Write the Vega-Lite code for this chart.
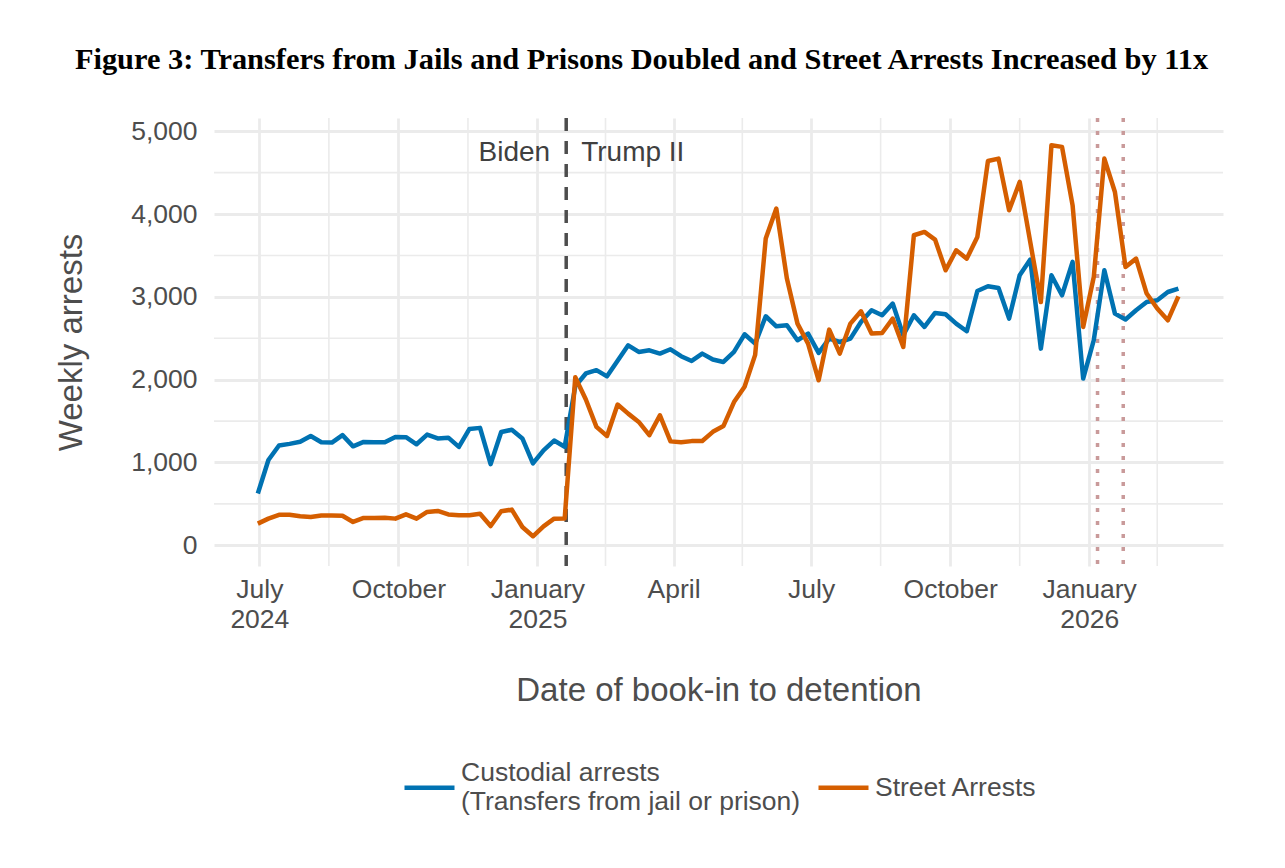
{
  "$schema": "https://vega.github.io/schema/vega-lite/v6.json",
  "width": 1009,
  "height": 448,
  "autosize": {"type": "none"},
  "padding": {"left": 214, "top": 118, "right": 62, "bottom": 302},
  "background": "white",
  "title": {
    "text": "Figure 3: Transfers from Jails and Prisons Doubled and Street Arrests Increased by 11x",
    "font": "Liberation Serif",
    "fontSize": 30.4,
    "fontWeight": "bold",
    "color": "#000000",
    "anchor": "middle",
    "frame": "group",
    "dx": -77,
    "offset": 41
  },
  "config": {
    "view": {"stroke": null},
    "font": "Liberation Sans",
    "axis": {
      "domain": false,
      "ticks": false,
      "tickSize": 0,
      "gridColor": "#ebebeb",
      "gridWidth": 2.8,
      "labelFont": "Liberation Sans",
      "labelFontSize": 26.5,
      "labelColor": "#4d4d4d",
      "titleFont": "Liberation Sans",
      "titleFontSize": 33,
      "titleFontWeight": "normal",
      "titleColor": "#4d4d4d"
    }
  },
  "datasets": {
    "weekly": [
      {"date": "2024-06-30", "custodial": 625, "street": 262},
      {"date": "2024-07-07", "custodial": 1030, "street": 322},
      {"date": "2024-07-14", "custodial": 1205, "street": 368},
      {"date": "2024-07-21", "custodial": 1225, "street": 370},
      {"date": "2024-07-28", "custodial": 1250, "street": 350},
      {"date": "2024-08-04", "custodial": 1320, "street": 342},
      {"date": "2024-08-11", "custodial": 1245, "street": 360},
      {"date": "2024-08-18", "custodial": 1240, "street": 360},
      {"date": "2024-08-25", "custodial": 1330, "street": 356},
      {"date": "2024-09-01", "custodial": 1195, "street": 282},
      {"date": "2024-09-08", "custodial": 1248, "street": 330},
      {"date": "2024-09-15", "custodial": 1244, "street": 330},
      {"date": "2024-09-22", "custodial": 1244, "street": 334},
      {"date": "2024-09-29", "custodial": 1308, "street": 322},
      {"date": "2024-10-06", "custodial": 1305, "street": 374},
      {"date": "2024-10-13", "custodial": 1220, "street": 322},
      {"date": "2024-10-20", "custodial": 1337, "street": 403},
      {"date": "2024-10-27", "custodial": 1290, "street": 415},
      {"date": "2024-11-03", "custodial": 1300, "street": 372},
      {"date": "2024-11-10", "custodial": 1188, "street": 362},
      {"date": "2024-11-17", "custodial": 1405, "street": 362},
      {"date": "2024-11-24", "custodial": 1418, "street": 382},
      {"date": "2024-12-01", "custodial": 980, "street": 233},
      {"date": "2024-12-08", "custodial": 1368, "street": 411},
      {"date": "2024-12-15", "custodial": 1395, "street": 431},
      {"date": "2024-12-22", "custodial": 1290, "street": 221},
      {"date": "2024-12-29", "custodial": 990, "street": 109},
      {"date": "2025-01-05", "custodial": 1147, "street": 229},
      {"date": "2025-01-12", "custodial": 1265, "street": 322},
      {"date": "2025-01-19", "custodial": 1190, "street": 325},
      {"date": "2025-01-26", "custodial": 1920, "street": 2030},
      {"date": "2025-02-02", "custodial": 2075, "street": 1760},
      {"date": "2025-02-09", "custodial": 2115, "street": 1430},
      {"date": "2025-02-16", "custodial": 2040, "street": 1320},
      {"date": "2025-02-23", "custodial": 2230, "street": 1700},
      {"date": "2025-03-02", "custodial": 2415, "street": 1590},
      {"date": "2025-03-09", "custodial": 2335, "street": 1490},
      {"date": "2025-03-16", "custodial": 2355, "street": 1330},
      {"date": "2025-03-23", "custodial": 2315, "street": 1570},
      {"date": "2025-03-30", "custodial": 2367, "street": 1255},
      {"date": "2025-04-06", "custodial": 2283, "street": 1245},
      {"date": "2025-04-13", "custodial": 2226, "street": 1258},
      {"date": "2025-04-20", "custodial": 2315, "street": 1260},
      {"date": "2025-04-27", "custodial": 2243, "street": 1370},
      {"date": "2025-05-04", "custodial": 2214, "street": 1440},
      {"date": "2025-05-11", "custodial": 2335, "street": 1730},
      {"date": "2025-05-18", "custodial": 2548, "street": 1915},
      {"date": "2025-05-25", "custodial": 2436, "street": 2300},
      {"date": "2025-06-01", "custodial": 2766, "street": 3704},
      {"date": "2025-06-08", "custodial": 2645, "street": 4066},
      {"date": "2025-06-15", "custodial": 2657, "street": 3221},
      {"date": "2025-06-22", "custodial": 2476, "street": 2677},
      {"date": "2025-06-29", "custodial": 2557, "street": 2436},
      {"date": "2025-07-06", "custodial": 2323, "street": 1993},
      {"date": "2025-07-13", "custodial": 2496, "street": 2605},
      {"date": "2025-07-20", "custodial": 2455, "street": 2315},
      {"date": "2025-07-27", "custodial": 2496, "street": 2677},
      {"date": "2025-08-03", "custodial": 2697, "street": 2826},
      {"date": "2025-08-10", "custodial": 2838, "street": 2557},
      {"date": "2025-08-17", "custodial": 2778, "street": 2564},
      {"date": "2025-08-24", "custodial": 2919, "street": 2738},
      {"date": "2025-08-31", "custodial": 2536, "street": 2395},
      {"date": "2025-09-07", "custodial": 2778, "street": 3744},
      {"date": "2025-09-14", "custodial": 2637, "street": 3784},
      {"date": "2025-09-21", "custodial": 2806, "street": 3692},
      {"date": "2025-09-28", "custodial": 2790, "street": 3321},
      {"date": "2025-10-05", "custodial": 2677, "street": 3563},
      {"date": "2025-10-12", "custodial": 2585, "street": 3462},
      {"date": "2025-10-19", "custodial": 3071, "street": 3724},
      {"date": "2025-10-26", "custodial": 3128, "street": 4641},
      {"date": "2025-11-02", "custodial": 3108, "street": 4670},
      {"date": "2025-11-09", "custodial": 2738, "street": 4046},
      {"date": "2025-11-16", "custodial": 3261, "street": 4388},
      {"date": "2025-11-23", "custodial": 3450, "street": 3660},
      {"date": "2025-11-30", "custodial": 2375, "street": 2938},
      {"date": "2025-12-07", "custodial": 3261, "street": 4831},
      {"date": "2025-12-14", "custodial": 3019, "street": 4811},
      {"date": "2025-12-21", "custodial": 3422, "street": 4106},
      {"date": "2025-12-28", "custodial": 2013, "street": 2637},
      {"date": "2026-01-04", "custodial": 2476, "street": 3240},
      {"date": "2026-01-11", "custodial": 3321, "street": 4670},
      {"date": "2026-01-18", "custodial": 2798, "street": 4267},
      {"date": "2026-01-25", "custodial": 2726, "street": 3361},
      {"date": "2026-02-01", "custodial": 2838, "street": 3462},
      {"date": "2026-02-08", "custodial": 2938, "street": 3040},
      {"date": "2026-02-15", "custodial": 2959, "street": 2859},
      {"date": "2026-02-22", "custodial": 3059, "street": 2717},
      {"date": "2026-03-01", "custodial": 3100, "street": 3007}
    ],
    "minorX": [
      {"date": "2024-08-16"},
      {"date": "2024-11-16"},
      {"date": "2025-02-15"},
      {"date": "2025-05-16T12:00:00Z"},
      {"date": "2025-08-16"},
      {"date": "2025-11-16"},
      {"date": "2026-02-15"}
    ],
    "minorY": [
      {"v": 500}, {"v": 1500}, {"v": 2500}, {"v": 3500}, {"v": 4500}
    ],
    "inauguration": [{"date": "2025-01-20"}],
    "events": [{"date": "2026-01-06T12:00:00Z"}, {"date": "2026-01-23T12:00:00Z"}],
    "labelLeft": [{"date": "2025-01-20", "y": 4740, "label": "Biden"}],
    "labelRight": [{"date": "2025-01-20", "y": 4740, "label": "Trump II"}]
  },
  "layer": [
    {
      "data": {"name": "minorX"},
      "mark": {"type": "rule", "color": "#ebebeb", "strokeWidth": 1.6},
      "encoding": {
        "x": {"field": "date", "type": "temporal", "title": "Date of book-in to detention"}
      }
    },
    {
      "data": {"name": "minorY"},
      "mark": {"type": "rule", "color": "#ebebeb", "strokeWidth": 1.6},
      "encoding": {
        "y": {"field": "v", "type": "quantitative", "title": "Weekly arrests"}
      }
    },
    {
      "data": {"name": "inauguration"},
      "mark": {"type": "rule", "color": "#4d4d4d", "strokeWidth": 3.5, "strokeDash": [13, 10]},
      "encoding": {
        "x": {"field": "date", "type": "temporal", "title": "Date of book-in to detention"}
      }
    },
    {
      "data": {"name": "events"},
      "mark": {"type": "rule", "color": "#c99a9a", "strokeWidth": 3.5, "strokeDash": [4, 9]},
      "encoding": {
        "x": {"field": "date", "type": "temporal", "title": "Date of book-in to detention"}
      }
    },
    {
      "data": {"name": "weekly"},
      "transform": [{"fold": ["custodial", "street"], "as": ["series", "arrests"]}],
      "mark": {"type": "line", "strokeWidth": 4.5, "strokeJoin": "round"},
      "encoding": {
        "x": {
          "field": "date",
          "type": "temporal",
          "title": "Date of book-in to detention",
          "scale": {
            "type": "utc",
            "domain": [
              {"year": 2024, "month": 6, "date": 1, "utc": true},
              {"year": 2026, "month": 3, "date": 30, "hours": 12, "utc": true}
            ]
          },
          "axis": {
            "values": [
              {"year": 2024, "month": 7, "date": 1, "utc": true},
              {"year": 2024, "month": 10, "date": 1, "utc": true},
              {"year": 2025, "month": 1, "date": 1, "utc": true},
              {"year": 2025, "month": 4, "date": 1, "utc": true},
              {"year": 2025, "month": 7, "date": 1, "utc": true},
              {"year": 2025, "month": 10, "date": 1, "utc": true},
              {"year": 2026, "month": 1, "date": 1, "utc": true}
            ],
            "labelExpr": "(utcmonth(datum.value) == 0 || (utcyear(datum.value) == 2024 && utcmonth(datum.value) == 6)) ? [utcFormat(datum.value, '%B'), utcFormat(datum.value, '%Y')] : utcFormat(datum.value, '%B')",
            "labelLineHeight": 30,
            "labelPadding": 10,
            "labelOverlap": false,
            "labelFlush": false,
            "grid": true,
            "titlePadding": 42
          }
        },
        "y": {
          "field": "arrests",
          "type": "quantitative",
          "title": "Weekly arrests",
          "scale": {"domain": [-250, 5160], "nice": false, "zero": false},
          "axis": {
            "values": [0, 1000, 2000, 3000, 4000, 5000],
            "format": ",d",
            "grid": true,
            "labelPadding": 17,
            "titlePadding": 42
          }
        },
        "color": {
          "field": "series",
          "type": "nominal",
          "scale": {"domain": ["custodial", "street"], "range": ["#0072B2", "#D55E00"]},
          "legend": {
            "title": null,
            "orient": "none",
            "legendX": 188,
            "legendY": 642,
            "direction": "horizontal",
            "symbolType": "stroke",
            "symbolSize": 2500,
            "symbolStrokeWidth": 4.5,
            "labelFontSize": 26.5,
            "labelColor": "#4d4d4d",
            "labelFont": "Liberation Sans",
            "labelLimit": 1000,
            "labelOffset": 4,
            "labelLineHeight": 29,
            "columnPadding": 8,
            "labelExpr": "datum.value == 'custodial' ? ['Custodial arrests', '(Transfers from jail or prison)'] : ['Street Arrests', ' ']",
            "encoding": {
              "labels": {
                "dy": {"condition": {"test": "datum.value == 'custodial'", "value": -14.5}, "value": 0},
                "lineHeight": {"condition": {"test": "datum.value == 'custodial'", "value": 29}, "value": 14.5}
              }
            }
          }
        }
      }
    },
    {
      "data": {"name": "labelLeft"},
      "mark": {"type": "text", "align": "right", "baseline": "middle", "dx": -16, "fontSize": 28, "color": "#404040", "font": "Liberation Sans"},
      "encoding": {
        "x": {"field": "date", "type": "temporal", "title": "Date of book-in to detention"},
        "y": {"field": "y", "type": "quantitative", "title": "Weekly arrests"},
        "text": {"field": "label"}
      }
    },
    {
      "data": {"name": "labelRight"},
      "mark": {"type": "text", "align": "left", "baseline": "middle", "dx": 15, "fontSize": 28, "color": "#404040", "font": "Liberation Sans"},
      "encoding": {
        "x": {"field": "date", "type": "temporal", "title": "Date of book-in to detention"},
        "y": {"field": "y", "type": "quantitative", "title": "Weekly arrests"},
        "text": {"field": "label"}
      }
    }
  ]
}
